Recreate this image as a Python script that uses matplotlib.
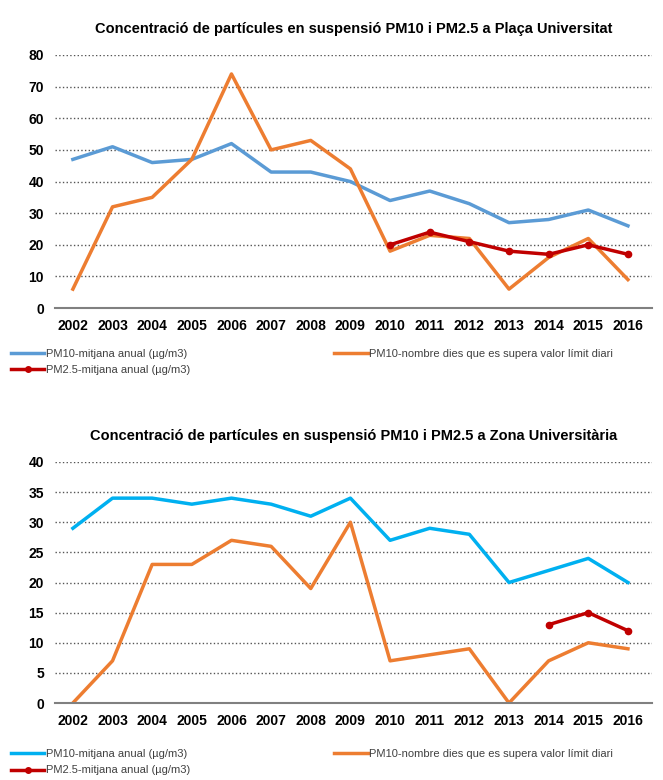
import matplotlib.pyplot as plt
from matplotlib.lines import Line2D

plt.rcParams['font.family'] = ['Liberation Sans Narrow', 'Liberation Sans', 'DejaVu Sans']

years = list(range(2002, 2017))

# Plaça Universitat
pu_pm10_mean = [47, 51, 46, 47, 52, 43, 43, 40, 34, 37, 33, 27, 28, 31, 26]
pu_pm10_days = [6, 32, 35, 47, 74, 50, 53, 44, 18, 23, 22, 6, 16, 22, 9]
pu_pm25_years = [2010, 2011, 2012, 2013, 2014, 2015, 2016]
pu_pm25_mean = [20, 24, 21, 18, 17, 20, 17]

# Zona Universitària
zu_pm10_mean = [29, 34, 34, 33, 34, 33, 31, 34, 27, 29, 28, 20, 22, 24, 20]
zu_pm10_days = [0, 7, 23, 23, 27, 26, 19, 30, 7, 8, 9, 0, 7, 10, 9]
zu_pm25_years = [2014, 2015, 2016]
zu_pm25_mean = [13, 15, 12]

lab_mean = 'PM10-mitjana anual (µg/m3)'
lab_days = 'PM10-nombre dies que es supera valor límit diari'
lab_pm25 = 'PM2.5-mitjana anual (µg/m3)'

orange = '#ED7D31'
red = '#C00000'

fig = plt.figure(figsize=(6.63, 7.80), dpi=100)


def draw(rect, title, mean, days, y25, v25, blue, ymax, ystep, leg_y):
    ax = fig.add_axes(rect)
    ax.plot(years, mean, color=blue, lw=2.5, solid_joinstyle='round')
    ax.plot(years, days, color=orange, lw=2.5, solid_joinstyle='round')
    ax.plot(y25, v25, color=red, lw=2.5, marker='o', ms=4.5)
    ax.set_xlim(2001.55, 2016.6)
    ax.set_ylim(0, ymax)
    ax.set_xticks(years)
    ax.set_yticks(range(0, ymax + 1, ystep))
    ax.grid(axis='y', linestyle=':', color='#555555', lw=1)
    ax.set_axisbelow(True)
    for s in ['top', 'right', 'left']:
        ax.spines[s].set_visible(False)
    ax.spines['bottom'].set_color('#808080')
    ax.spines['bottom'].set_linewidth(1.5)
    ax.tick_params(length=0, labelsize=10, pad=8)
    for t in ax.get_xticklabels() + ax.get_yticklabels():
        t.set_fontweight('bold')
    ax.set_title(title, fontsize=10.5, fontweight='bold', pad=16)
    h_mean = Line2D([], [], color=blue, lw=2.5)
    h_days = Line2D([], [], color=orange, lw=2.5)
    h_25 = Line2D([], [], color=red, lw=2.5, marker='o', ms=4)
    fig.legend([h_mean, h_25, h_days], [lab_mean, lab_pm25, lab_days],
               ncol=2, loc='upper left', bbox_to_anchor=(0.01, leg_y),
               frameon=False, fontsize=8, handlelength=3, handletextpad=0.1,
               columnspacing=13, labelspacing=0.55, borderaxespad=0,
               labelcolor='#404040')
    return ax


draw([0.083, 0.605, 0.9, 0.3245],
     'Concentració de partícules en suspensió PM10 i PM2.5 a Plaça Universitat',
     pu_pm10_mean, pu_pm10_days, pu_pm25_years, pu_pm25_mean,
     '#5B9BD5', 80, 10, 0.558)
draw([0.083, 0.0987, 0.9, 0.309],
     'Concentració de partícules en suspensió PM10 i PM2.5 a Zona Universitària',
     zu_pm10_mean, zu_pm10_days, zu_pm25_years, zu_pm25_mean,
     '#00B0F0', 40, 5, 0.045)

fig.savefig('out.png', dpi=100)
